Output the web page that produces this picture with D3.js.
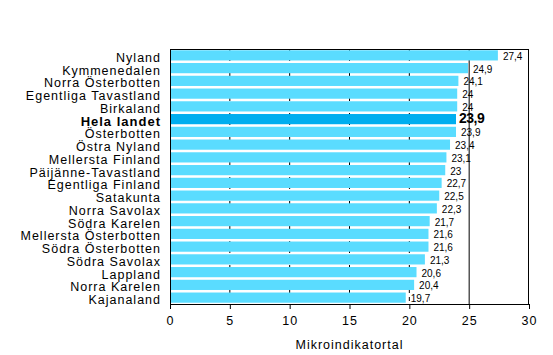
<!DOCTYPE html>
<html><head><meta charset="utf-8">
<script src="https://cdn.jsdelivr.net/npm/d3@7"></script>
<style>body{margin:0;background:#fff}text{font-family:Arial,"Liberation Sans",sans-serif}</style>
</head><body>
<svg id="c" width="553" height="355"></svg>
<script>
const categories = ["Nyland","Kymmenedalen","Norra Österbotten","Egentliga Tavastland","Birkaland","Hela landet","Österbotten","Östra Nyland","Mellersta Finland","Päijänne-Tavastland","Egentliga Finland","Satakunta","Norra Savolax","Södra Karelen","Mellersta Österbotten","Södra Österbotten","Södra Savolax","Lappland","Norra Karelen","Kajanaland"];
const values = [27.4,24.9,24.1,24,24,23.9,23.9,23.4,23.1,23,22.7,22.5,22.3,21.7,21.6,21.6,21.3,20.6,20.4,19.7];
const valueLabels = ["27,4","24,9","24,1","24","24","23,9","23,9","23,4","23,1","23","22,7","22,5","22,3","21,7","21,6","21,6","21,3","20,6","20,4","19,7"];
const highlight = "Hela landet";
const xTicks = [0,5,10,15,20,25,30];
const xTitle = "Mikroindikatortal";

const svg = d3.select("#c");
const L = 170, R = 529, T = 49, B = 304;
const x = d3.scaleLinear().domain([0,30]).range([L,R]);
const y = d3.scaleBand().domain(categories).range([T,B]).paddingInner(0.2).paddingOuter(0.1);

// gridlines
svg.selectAll(".grid").data(xTicks.filter(d=>d>0&&d<30)).enter().append("line")
  .attr("x1",d=>x(d)).attr("x2",d=>x(d)).attr("y1",T).attr("y2",B)
  .attr("stroke","#000").attr("stroke-width",1)
  .attr("stroke-dasharray",d=>d===25?null:"4,4");

// bars
svg.selectAll(".bar").data(categories).enter().append("rect")
  .attr("x",x(0)).attr("y",d=>y(d))
  .attr("width",(d,i)=>x(values[i])-x(0)).attr("height",y.bandwidth())
  .attr("fill",d=>d===highlight?"#00AEEF":"#5ADCFF");

// frame
svg.append("rect").attr("x",L+0.5).attr("y",T+0.5).attr("width",R-L-1).attr("height",B-T)
  .attr("fill","none").attr("stroke","#000");

// category labels
svg.selectAll(".cl").data(categories).enter().append("text")
  .attr("x",L-9).attr("y",d=>y(d)+y.bandwidth()/2).attr("dy","0.52em")
  .attr("text-anchor","end")
  .attr("font-size",d=>d===highlight?13:12.5)
  .attr("letter-spacing",1)
  .attr("font-weight",d=>d===highlight?"bold":"normal")
  .text(d=>d);

// value labels
svg.selectAll(".vl").data(categories).enter().append("text")
  .attr("x",(d,i)=>x(values[i])+(categories[i]===highlight?3:5)).attr("y",d=>y(d)+y.bandwidth()/2)
  .attr("dy",d=>d===highlight?"0.3em":"0.45em")
  .attr("font-size",d=>d===highlight?14:10)
  .attr("letter-spacing",d=>d===highlight?-0.5:0)
  .attr("font-weight",d=>d===highlight?"bold":"normal")
  .text((d,i)=>valueLabels[i]);

// x axis
const ax = svg.append("g").attr("transform",`translate(0,${B})`)
  .call(d3.axisBottom(x).tickValues(xTicks).tickSize(5).tickFormat(d=>d));
ax.select(".domain").attr("stroke","#000");
ax.selectAll("text").attr("font-size",12.5).attr("letter-spacing",1).attr("dy","1.0em");

svg.append("text").attr("x",(L+R)/2).attr("y",349).attr("text-anchor","middle")
  .attr("font-size",12.5).attr("letter-spacing",1).text(xTitle);
</script>
</body></html>
